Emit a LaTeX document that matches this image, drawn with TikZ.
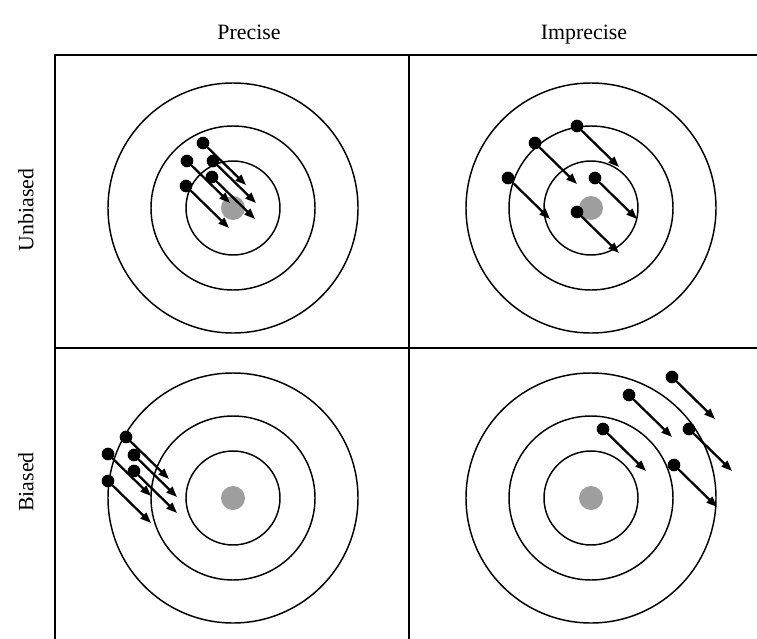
\documentclass[tikz,border=0pt]{standalone}
\usepackage{fontspec}
\setmainfont{Liberation Serif}
\usetikzlibrary{arrows.meta}
\begin{document}
\begin{tikzpicture}[x=0.75pt,y=-0.75pt,
  frame/.style={line width=1.2pt},
  ring/.style={draw, circle, line width=1.1pt, inner sep=0pt, outer sep=0pt},
  bull/.style={circle, fill=black!38, minimum size=18pt, inner sep=0pt},
  shot/.style={circle, fill=black, minimum size=9.5pt, inner sep=0pt},
  arr/.style={line width=1.7pt, -{Triangle[length=8pt,width=6pt]}},
  lab/.style={font=\fontsize{16.4}{19}\selectfont, inner sep=0pt}]
\useasboundingbox (0,0) rectangle (757,639);
% frame
\coordinate (tl) at (55,55);
\coordinate (tr) at (757,55);
\coordinate (bl) at (55,639);
\coordinate (ml) at (55,348);
\coordinate (mr) at (757,348);
\coordinate (vt) at (409,55);
\coordinate (vb) at (409,639);
\draw[frame] (tr) -- (tl) -- (bl);
\draw[frame] (ml) -- (mr);
\draw[frame] (vt) -- (vb);
% labels
\node[lab, anchor=base] (hP) at (249,39) {Precise};
\node[lab, anchor=base] (hI) at (584,39) {Imprecise};
\node[lab, rotate=90] (hU) at (26,210) {Unbiased};
\node[lab, rotate=90] (hB) at (26,482) {Biased};
% targets
\foreach \n/\cx/\cy in {A/233/208, B/591/208, C/233/498, D/591/498}{
  \node[ring, minimum size=187.5pt] (\n o) at (\cx,\cy) {};
  \node[ring, minimum size=123pt] (\n m) at (\cx,\cy) {};
  \node[ring, minimum size=70.5pt] (\n i) at (\cx,\cy) {};
  \node[bull] (\n b) at (\cx,\cy) {};
}
% shots
\foreach \n/\x/\y in {
  A1/203/143, A2/187/161, A3/213/161, A4/186/186, A5/212/177,
  C1/126/437, C2/108/454, C3/134/455, C4/134/471, C5/108/481,
  D1/672/377, D2/629/395, D3/603/429, D4/689/429, D5/674/465}{
  \node[shot] (s\n) at (\x,\y) {};
  \coordinate (e\n) at (\x+43,\y+42);
  \draw[arr] (s\n.center) -- (e\n);
}
\foreach \n/\x/\y in {
  B1/577/126, B2/535/143, B3/508/178, B4/595/178, B5/577/212}{
  \node[shot] (s\n) at (\x,\y) {};
  \coordinate (e\n) at (\x+42,\y+41);
  \draw[arr] (s\n.center) -- (e\n);
}
\end{tikzpicture}
\end{document}
